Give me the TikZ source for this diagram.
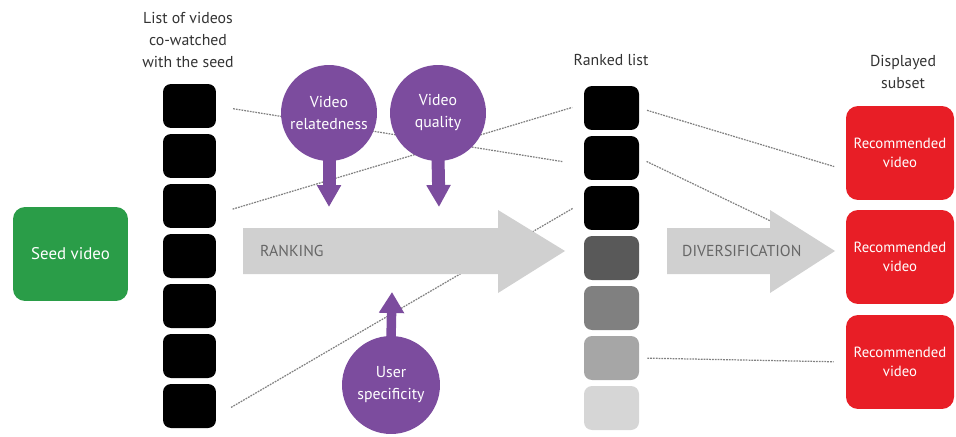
\documentclass[tikz,border=0pt]{standalone}
\usepackage{fontspec}
\setmainfont{PT Sans}
\usetikzlibrary{calc, arrows.meta}
\definecolor{seedgreen}{RGB}{42,157,72}
\definecolor{recred}{RGB}{232,30,38}
\definecolor{factorpurple}{RGB}{124,76,158}
\definecolor{stepgray}{RGB}{208,208,208}

\begin{document}
\begin{tikzpicture}[x=0.02cm,y=-0.02cm,
    vidbox/.style={rounded corners=0.16cm, minimum width=1.06cm, minimum height=0.88cm, inner sep=0pt},
    factor/.style={circle, fill=factorpurple, text=white, minimum size=1.92cm, inner sep=0pt, align=center, font=\fontsize{9}{12.5}\selectfont},
    recbox/.style={rounded corners=0.24cm, fill=recred, text=white, minimum width=2.16cm, minimum height=1.88cm, align=center, font=\fontsize{8.4}{11}\selectfont},
    title/.style={align=center, text=black!80, font=\fontsize{9}{12.5}\selectfont},
    steptext/.style={anchor=west, text=black!60, font=\fontsize{9}{11}\selectfont},
    link/.style={gray, line width=0.7pt, dash pattern=on 1pt off 0.6pt},
    push/.style={factorpurple, line width=0.26cm, -{Triangle[width=0.46cm, length=0.44cm]}}]
    \useasboundingbox (0,0) rectangle (956,436);

    % the two lists
    \foreach \i in {1,...,7}
      \node[vidbox, fill=black] (cw\i) at (189.5,56+50*\i) {};
    \foreach \i/\c in {1/black,2/black,3/black,4/black!65,5/black!50,6/black!35,7/black!16}
      \node[vidbox, minimum width=1.1cm, fill=\c] (rk\i) at (611.5,58+50*\i) {};

    \node[recbox, fill=seedgreen, minimum width=2.3cm, font=\fontsize{9.6}{11}\selectfont] (seed) at (70.5,254) {Seed video};
    \node[recbox] (rec1) at (900,153) {Recommended\\video};
    \node[recbox] (rec2) at (900,257) {Recommended\\video};
    \node[recbox] (rec3) at (900,362) {Recommended\\video};

    \node[title] (cwtitle) at (188,40) {List of videos\\co-watched\\with the seed};
    \node[title] (rktitle) at (611,60) {Ranked list};
    \node[title] (rectitle) at (903,72) {Displayed\\subset};

    \draw[link, shorten <=0.34cm, shorten >=0.42cm] (cw1.east) -- ($(rk2.west)+(0,7)$);
    \draw[link, shorten <=0.34cm, shorten >=0.24cm] ($(cw3.east)+(0,8)$) -- ($(rk1.west)+(0,-4)$);
    \draw[link, shorten <=0.34cm, shorten >=0.24cm] ($(cw7.east)+(0,10)$) -- ($(rk3.west)+(0,-6)$);
    \draw[link, shorten <=0.16cm, shorten >=0.24cm] (rk1.east) -- ($(rec1.west)+(0,17)$);
    \draw[link, shorten <=0.16cm, shorten >=0.28cm] (rk2.east) -- (rec2.west);
    \draw[link, shorten <=0.16cm, shorten >=0.24cm] (rk6.east) -- (rec3.west);

    % big gray arrows
    \fill[stepgray] (243,228) -- (498,228) -- (498,210) -- (565,251) -- (498,293) -- (498,274) -- (243,274) -- cycle;
    \fill[stepgray] (667,228) -- (770,228) -- (770,210) -- (835,251) -- (770,293) -- (770,274) -- (667,274) -- cycle;
    \node[steptext] (ranking) at (254,251) {RANKING};
    \node[steptext] (diversification) at (676,251) {DIVERSIFICATION};

    % factors
    \node[factor] (rel) at (329,113) {Video\\relatedness};
    \node[factor] (qual) at (438,113) {Video\\quality};
    \node[factor, minimum size=1.96cm] (user) at (391,385) {User\\specificity};
    \coordinate (reltip) at (329,207);
    \coordinate (qualtip) at (439,207);
    \coordinate (usertip) at (392,292);
    \draw[push] ($(rel.south)+(0,-4)$) -- (reltip);
    \draw[push] ($(qual.south)+(0,-4)$) -- (qualtip);
    \draw[push, line width=0.19cm, -{Triangle[width=0.48cm, length=0.42cm]}] ($(user.north)+(0,4)$) -- (usertip);
\end{tikzpicture}
\end{document}
